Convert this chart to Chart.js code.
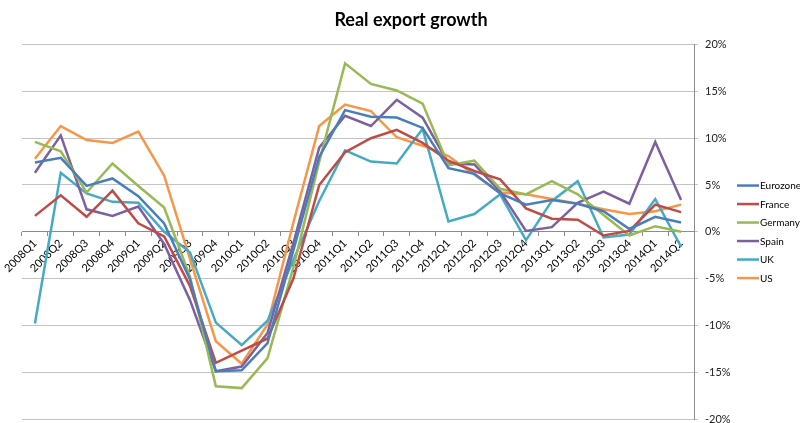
<!DOCTYPE html>
<html>
<head>
<meta charset="utf-8">
<script src="https://cdn.jsdelivr.net/npm/chart.js@4"></script>
<style>
  html, body { margin: 0; padding: 0; background: #fff; }
  #wrap { width: 800px; height: 423px; }
</style>
</head>
<body>
<div id="wrap"><canvas id="myChart" width="800" height="423"></canvas></div>
<script>
// quarters on the x axis
var quarters = ['2008Q1','2008Q2','2008Q3','2008Q4','2009Q1','2009Q2','2009Q3','2009Q4',
                '2010Q1','2010Q2','2010Q3','2010Q4','2011Q1','2011Q2','2011Q3','2011Q4',
                '2012Q1','2012Q2','2012Q3','2012Q4','2013Q1','2013Q2','2013Q3','2013Q4',
                '2014Q1','2014Q2'];

// real export growth, % yoy
var eurozone = [7.4, 7.9, 4.9, 5.7, 3.8, 0.9, -5.1, -14.9, -14.8, -11.9, -2.0, 8.0, 13.0, 12.3, 12.2, 11.1,
                6.8, 6.2, 4.1, 2.9, 3.4, 3.0, 2.2, 0.3, 1.6, 1.0];
var france   = [1.7, 3.9, 1.6, 4.4, 0.9, -0.5, -5.8, -14.0, -12.7, -11.4, -5.0, 5.0, 8.5, 10.0, 10.9, 9.5,
                7.6, 6.5, 5.6, 2.5, 1.4, 1.3, -0.4, 0.1, 2.9, 2.1];
var germany  = [9.6, 8.6, 4.2, 7.3, 4.9, 2.6, -4.8, -16.5, -16.7, -13.5, -3.8, 7.5, 18.0, 15.8, 15.1, 13.7,
                7.1, 7.6, 4.6, 4.0, 5.4, 4.0, 1.8, -0.4, 0.6, 0.0];
var spain    = [6.3, 10.3, 2.4, 1.7, 2.7, -1.3, -7.3, -14.9, -14.4, -10.8, -1.2, 9.0, 12.4, 11.3, 14.1, 12.2,
                7.3, 7.2, 4.3, 0.1, 0.5, 3.1, 4.3, 3.0, 9.6, 3.4];
var uk       = [-9.8, 6.3, 4.1, 3.2, 3.1, 0.0, -2.2, -9.7, -12.1, -9.5, -3.0, 3.3, 8.7, 7.5, 7.3, 11.0,
                1.1, 1.9, 4.0, -0.9, 3.3, 5.4, -0.6, -0.3, 3.5, -1.6];
var us       = [7.8, 11.3, 9.8, 9.5, 10.7, 6.0, -2.9, -11.7, -14.1, -9.9, 1.0, 11.3, 13.6, 12.9, 10.1, 9.2,
                8.1, 6.1, 4.2, 4.0, 3.5, 3.0, 2.4, 1.9, 2.2, 2.9];

var seriesNames = ['Eurozone', 'France', 'Germany', 'Spain', 'UK', 'US'];
var seriesData = [eurozone, france, germany, spain, uk, us];
var seriesColors = ['#4A7EBB', '#BE4B48', '#98B954', '#7D60A0', '#46AAC5', '#F79646'];

// y axis tick values
var yMin = -20, yMax = 20, yStep = 5;

var FONT = 'Lato, "Open Sans", sans-serif';

// legend drawn by hand, to the right of the axis, centred on the plot
var sideLegend = {
    id: 'sideLegend',
    afterDraw: function (chart) {
        var ctx = chart.ctx;
        var area = chart.chartArea;
        var rowH = 18.5;
        var n = chart.data.datasets.length;
        var y0 = (area.top + area.bottom) / 2 - (n - 1) * rowH / 2;
        var x0 = 737;
        ctx.save();
        ctx.font = '10px ' + FONT;
        ctx.textBaseline = 'middle';
        ctx.textAlign = 'left';
        chart.data.datasets.forEach(function (ds, i) {
            var y = y0 + i * rowH;
            ctx.strokeStyle = ds.borderColor;
            ctx.lineWidth = 2.5;
            ctx.beginPath();
            ctx.moveTo(x0, y);
            ctx.lineTo(x0 + 22, y);
            ctx.stroke();
            ctx.fillStyle = '#000';
            ctx.fillText(ds.label, x0 + 23, y + 0.5);
        });
        ctx.restore();
    }
};

var ctx = document.getElementById('myChart');
new Chart(ctx.getContext('2d'), {
    type: 'line',
    data: {
        labels: quarters,
        datasets: seriesNames.map(function (name, i) {
            return {
                label: name,
                data: seriesData[i],
                borderColor: seriesColors[i],
                backgroundColor: seriesColors[i],
                borderWidth: 2.5,
                pointRadius: 0,
                tension: 0,
                fill: false
            };
        })
    },
    options: {
        responsive: false,
        animation: false,
        layout: { padding: { left: 22, right: 0, top: 0, bottom: 4 } },
        plugins: {
            legend: { display: false },
            tooltip: { enabled: false },
            title: {
                display: true,
                text: 'Real export growth',
                color: '#000',
                font: { family: FONT, size: 18, weight: 'bold' },
                padding: { top: 9, bottom: 14 }
            }
        },
        scales: {
            x: {
                position: { y: 0 },
                offset: true,
                grid: {
                    offset: true,
                    drawOnChartArea: false,
                    drawTicks: true,
                    tickLength: 4,
                    color: '#8c8c8c'
                },
                border: { display: true, color: '#8c8c8c', width: 1 },
                ticks: {
                    autoSkip: false,
                    minRotation: 45,
                    maxRotation: 45,
                    padding: 1,
                    color: '#000',
                    font: { family: FONT, size: 11 }
                },
                afterFit: function (s) {
                    s.paddingLeft = 0; s.paddingRight = 0;
                }
            },
            y: {
                position: 'right',
                min: yMin,
                max: yMax,
                grid: {
                    color: '#c4c4c4',
                    lineWidth: 1,
                    tickLength: 4
                },
                border: { display: true, color: '#8c8c8c', width: 1 },
                ticks: {
                    stepSize: yStep,
                    padding: 7,
                    color: '#222',
                    font: { family: FONT, size: 11 },
                    callback: function (v) { return v + '%'; }
                },
                afterFit: function (s) {
                    s.width = 106;
                    s.paddingTop = 0; s.paddingBottom = 0;
                }
            }
        }
    },
    plugins: [sideLegend]
});
</script>
</body>
</html>
